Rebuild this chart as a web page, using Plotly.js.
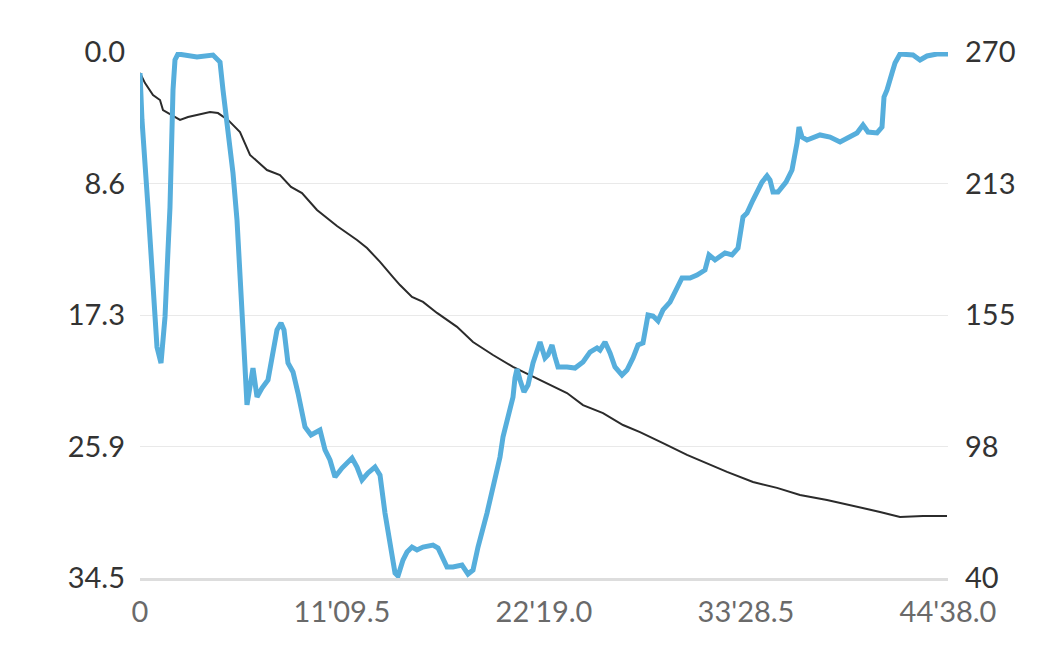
<!DOCTYPE html>
<html>
<head>
<meta charset="utf-8">
<script src="https://cdn.plot.ly/plotly-3.0.1.min.js"></script>
<style>
html,body{margin:0;padding:0;background:#fff;}
#chart{width:1046px;height:662px;}
</style>
</head>
<body>
<div id="chart"></div>
<script>
// Dive time in seconds
const depthTime = [0,6.6,26.5,43.1,56.3,69.6,82.9,92.8,99.4,109.4,116.0,125.9,188.9,241.9,265.2,275.1,291.7,308.2,321.5,338.1,348.0,354.6,374.5,387.8,404.4,424.2,440.8,454.1,467.3,477.3,490.5,507.1,523.7,546.9,566.8,583.3,596.6,613.2,629.7,646.3,669.5,702.7,719.2,735.8,755.7,778.9,795.5,812.0,828.6,845.2,855.1,871.7,885.0,901.5,918.1,938.0,971.1,987.7,1017.5,1037.4,1067.2,1087.1,1103.7,1120.3,1150.1,1170.0,1193.2,1203.1,1226.3,1236.3,1242.9,1249.5,1259.5,1272.7,1286.0,1302.6,1325.8,1342.3,1352.3,1365.5,1375.5,1385.4,1415.2,1441.8,1468.3,1491.5,1514.7,1524.6,1541.2,1557.8,1574.3,1597.5,1614.1,1634.0,1650.6,1667.1,1683.7,1700.3,1716.9,1733.4,1756.6,1779.9,1796.4,1822.9,1846.1,1872.6,1885.9,1905.8,1938.9,1962.1,1982.0,1998.6,2011.8,2031.7,2061.6,2078.1,2088.1,2098.0,2114.6,2141.1,2161.0,2177.6,2184.2,2194.1,2210.7,2253.8,2286.9,2320.1,2353.2,2376.4,2396.3,2412.9,2442.7,2459.3,2465.9,2475.9,2492.4,2502.4,2519.0,2562.0,2585.2,2608.4,2641.6,2678];
// Depth (m)
const depth = [1.38,4.46,10.17,15.81,19.35,20.40,17.38,12.99,10.17,2.49,0.52,0.13,0.33,0.20,0.66,2.49,5.12,7.94,11.02,16.27,20.66,23.15,20.73,22.63,22.04,21.51,19.55,18.23,17.78,18.23,20.40,20.99,22.37,24.60,25.12,24.92,24.79,26.10,26.76,27.88,27.29,26.63,27.22,28.07,27.61,27.22,27.75,30.24,32.01,34.17,34.37,33.32,32.80,32.47,32.66,32.47,32.34,32.53,33.78,33.78,33.65,34.24,33.98,32.47,30.24,28.53,26.56,25.25,23.35,22.63,21.38,20.79,21.51,22.30,21.84,20.40,19.02,20.07,19.87,19.22,20.00,20.66,20.66,20.73,20.33,19.68,19.41,19.55,19.02,19.74,20.66,21.19,20.86,20.07,19.22,19.09,17.25,17.32,17.64,16.92,16.40,15.41,14.82,14.82,14.63,14.30,13.31,13.64,13.18,13.31,12.86,10.82,10.56,9.71,8.53,8.13,8.40,9.18,9.18,8.53,7.74,5.97,4.92,5.58,5.77,5.44,5.58,5.90,5.58,5.31,4.79,5.25,5.31,4.92,2.95,2.49,1.38,0.72,0.13,0.20,0.52,0.26,0.13,0.13];

const pressureTime = [0,16.6,43.1,66.3,76.2,106.1,132.6,159.1,198.9,232.0,258.5,291.7,331.4,364.6,391.1,420.9,464.0,500.5,536.9,586.6,652.9,719.2,752.4,795.5,838.5,861.7,901.5,938.0,984.4,1050.7,1103.7,1170.0,1236.3,1292.6,1358.9,1415.2,1468.3,1534.6,1600.9,1657.2,1733.4,1813.0,1945.6,2031.7,2111.3,2187.5,2277.0,2386.4,2452.7,2519.0,2595.2,2674.7];
// Tank pressure (bar)
const pressure = [260.8,256.4,251.2,249.0,244.6,242.5,240.3,241.6,242.9,243.8,243.3,240.3,235.0,225.0,221.9,218.4,216.2,211.0,208.3,200.9,193.9,187.8,184.3,178.2,171.6,168.1,162.9,160.7,155.9,149.8,143.2,137.5,132.3,128.8,124.4,120.9,115.6,112.1,106.9,103.8,99.0,93.8,86.4,82.0,79.4,76.3,74.1,71.0,68.9,66.7,67.1,67.1];

const xTickVals = [0,669.5,1339,2008.5,2678];
const xTickText = ["0","11'09.5","22'19.0","33'28.5","44'38.0"];
const depthTickVals = [0,8.625,17.25,25.875,34.5];
const depthTickText = ["0.0","8.6","17.3","25.9","34.5"];
const pressTickVals = [40,97.5,155,212.5,270];
const pressTickText = ["40","98","155","213","270"];

const FONT = "Lato, 'Open Sans', sans-serif";

const traces = [
  {x: pressureTime, y: pressure, type: 'scatter', mode: 'lines',
   xaxis: 'x', yaxis: 'y', line: {color: '#2b2b2b', width: 2}, hoverinfo: 'skip'},
  {x: depthTime, y: depth, type: 'scatter', mode: 'lines',
   xaxis: 'x', yaxis: 'y2', line: {color: '#56aedc', width: 5}, hoverinfo: 'skip'}
];

const layout = {
  width: 1046, height: 662,
  margin: {l: 140, r: 98, t: 52, b: 84},
  paper_bgcolor: '#fff', plot_bgcolor: '#fff',
  showlegend: false,
  font: {family: FONT, size: 29, color: '#333'},
  xaxis: {
    range: [0, 2678], tickvals: xTickVals, ticktext: xTickText,
    showgrid: false, zeroline: false,
    showline: true, linecolor: '#dddddd', linewidth: 3,
    ticks: '', ticklabelstandoff: 6,
    tickfont: {family: FONT, size: 29, color: '#6a6a6a'}
  },
  xaxis2: {
    overlaying: 'x', matches: 'x', range: [0, 2678],
    tickvals: xTickVals.slice(1, 4), showticklabels: false,
    ticks: 'outside', ticklen: 11, tickwidth: 2, tickcolor: '#cccccc',
    showgrid: false, zeroline: false, showline: false, anchor: 'y2'
  },
  yaxis: {
    side: 'right', range: [40, 270], tickvals: pressTickVals, ticktext: pressTickText,
    showgrid: true, gridcolor: '#e9e9e9', gridwidth: 1,
    zeroline: false, showline: false, ticks: '', ticklabelstandoff: 16,
    tickfont: {family: FONT, size: 29, color: '#333'}
  },
  yaxis2: {
    side: 'left', overlaying: 'y', range: [34.5, 0],
    tickvals: depthTickVals, ticktext: depthTickText,
    showgrid: false, zeroline: false, showline: false, ticks: '', ticklabelstandoff: 14,
    tickfont: {family: FONT, size: 29, color: '#333'}
  }
};

Plotly.newPlot('chart', traces, layout, {staticPlot: true, displayModeBar: false});
</script>
</body>
</html>
